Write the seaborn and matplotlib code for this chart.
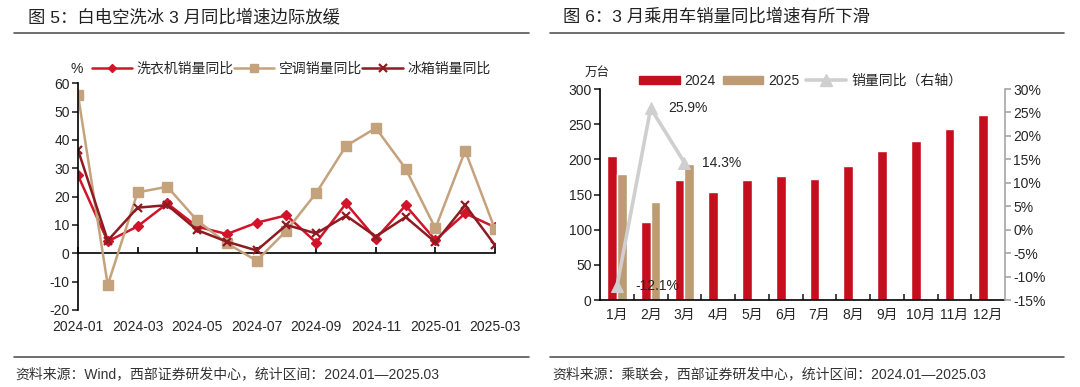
import numpy as np
import pandas as pd
import matplotlib
matplotlib.use('Agg')
import matplotlib.pyplot as plt
from matplotlib.lines import Line2D
from matplotlib.patches import Patch
from matplotlib.ticker import FuncFormatter
import seaborn as sns

sns.set_style('white')
plt.rcParams['font.family'] = ['Liberation Sans', 'Noto Sans CJK SC']
plt.rcParams['axes.unicode_minus'] = False

# %% data -- left chart (white goods yoy, %)
months_l = ['2024-01', '2024-02', '2024-03', '2024-04', '2024-05', '2024-06', '2024-07',
            '2024-08', '2024-09', '2024-10', '2024-11', '2024-12', '2025-01', '2025-02', '2025-03']
washer = [27.5, 4.2, 9.5, 17.6, 9.4, 6.8, 10.8, 13.4, 3.8, 17.6, 5.2, 16.9, 4.7, 14.1, 9.2]
aircon = [55.9, -11.2, 21.5, 23.5, 11.6, 3.5, -2.6, 8.0, 21.3, 37.9, 44.2, 29.9, 8.8, 36.2, 8.5]
fridge = [36.5, 4.5, 16.1, 17.0, 8.2, 4.1, 1.0, 10.0, 7.0, 13.3, 5.9, 12.8, 3.9, 17.0, 2.9]
series_names = ['洗衣机销量同比', '空调销量同比', '冰箱销量同比']

# %% data -- right chart (passenger car sales, 万台)
months_r = ['1月', '2月', '3月', '4月', '5月', '6月', '7月', '8月', '9月', '10月', '11月', '12月']
sales_2024 = [204.5, 110.5, 170, 153.5, 171, 177, 172, 191, 211.5, 226.5, 242.5, 263.5]
sales_2025 = [179, 139, 193.5]
yoy = [-12.1, 25.9, 14.3]
yoy_labels = ['-12.1%', '25.9%', '14.3%']

c_washer = '#D2142A'
c_aircon = '#C4A27C'
c_fridge = '#8E1B22'
c_red = '#C50F1F'
c_tan = '#BD9B73'
c_gray = '#CFCFCF'

fig = plt.figure(figsize=(10.8, 3.87), dpi=100)

# region >>> left chart
ax1 = fig.add_axes([0.0722, 0.1990, 0.3861, 0.5858])
pos = np.arange(len(months_l))
styles = [(washer, c_washer, 'D', 5, 1.0), (aircon, c_aircon, 's', 7, 1.0), (fridge, c_fridge, 'x', 6, 1.6)]
for name, (vals, col, mk, ms, mew) in zip(series_names, styles):
    sns.lineplot(x=pos, y=vals, ax=ax1, color=col, marker=mk, markersize=ms,
                 markeredgecolor=col, markeredgewidth=mew, lw=1.8, label=name, legend=False)
ax1.set_xlim(0, 14)
ax1.set_ylim(-20, 60)
ax1.set_yticks(range(-20, 61, 10))
ax1.set_xticks(pos[::2])
ax1.set_xticklabels(months_l[::2])
for s in ['top', 'right', 'bottom']:
    ax1.spines[s].set_visible(False)
ax1.spines['left'].set_color('black')
ax1.spines['left'].set_linewidth(1.2)
ax1.tick_params(axis='y', direction='out', length=4, width=1.2, labelsize=10, pad=2, left=True)
ax1.tick_params(axis='x', length=0, labelsize=10, pad=7)
ax1.set_xlabel('')
ax1.set_ylabel('')

# zero line with ticks pointing up
zero = ax1.secondary_xaxis(0.25)
zero.set_xticks(pos[::2])
zero.set_xticklabels([])
zero.tick_params(axis='x', direction='in', length=4, width=1.2, color='black')
zero.spines['bottom'].set_linewidth(1.2)
zero.spines['bottom'].set_color('black')

fig.text(0.0712, 0.822, '%', fontsize=10, ha='center', va='center')
h1 = [Line2D([], [], color=c, marker=m, markersize=ms * 0.9, markeredgecolor=c, markeredgewidth=mew, lw=1.8)
      for (_, c, m, ms, mew) in styles]
fig.legend(h1, series_names, loc='center left', bbox_to_anchor=(0.085, 0.822), ncol=3,
           frameon=False, fontsize=10, handlelength=2.9, handletextpad=0.35, columnspacing=0.0,
           borderpad=0, borderaxespad=0)
# endregion

# region >>> right chart
ax2 = fig.add_axes([0.5556, 0.2248, 0.375, 0.5452])
df_r = pd.concat([
    pd.DataFrame({'month': months_r, 'year': '2024', 'sales': sales_2024}),
    pd.DataFrame({'month': months_r[:3], 'year': '2025', 'sales': sales_2025}),
])
sns.barplot(data=df_r, x='month', y='sales', hue='year', order=months_r, hue_order=['2024', '2025'],
            palette={'2024': c_red, '2025': c_tan}, width=0.575, gap=0, saturation=1,
            legend=False, ax=ax2)
ax2.set_ylim(0, 300)
ax2.set_yticks(range(0, 301, 50))
ax2.set_xlabel('')
ax2.set_ylabel('')
for s in ['top', 'right']:
    ax2.spines[s].set_visible(False)
for s in ['left', 'bottom']:
    ax2.spines[s].set_color('black')
    ax2.spines[s].set_linewidth(1.2)
ax2.tick_params(axis='y', direction='out', length=4, width=1.2, labelsize=10, pad=2, left=True)
ax2.tick_params(axis='x', which='major', length=0, labelsize=10, pad=6)
ax2.set_xticks(np.arange(0.5, 11, 1), minor=True)
ax2.tick_params(axis='x', which='minor', direction='in', length=4, width=1.2, bottom=True)

ax3 = ax2.twinx()
sns.lineplot(x=[0, 1, 2], y=yoy, ax=ax3, color=c_gray, marker='^', markersize=9,
             markeredgecolor=c_gray, lw=2.6, legend=False)
ax3.set_ylim(-15, 30)
ax3.set_yticks(range(-15, 31, 5))
ax3.yaxis.set_major_formatter(FuncFormatter(lambda v, p: f'{v:.0f}%'))
for s in ['top', 'left', 'bottom']:
    ax3.spines[s].set_visible(False)
ax3.spines['right'].set_color('#A6A6A6')
ax3.spines['right'].set_linewidth(1.2)
ax3.tick_params(axis='y', direction='out', length=4, width=1.2, color='#A6A6A6', labelsize=10, pad=2, right=True)
ax3.set_ylabel('')
for x, y, t in zip([0, 1, 2], yoy, yoy_labels):
    ax3.annotate(t, (x, y), xytext=(13, 0), textcoords='offset points', fontsize=10, va='center', ha='left')
ax2.set_xlim(-0.5, 11.5)

fig.text(0.5528, 0.811, '万台', fontsize=9, ha='center', va='center')
h2 = [Patch(color=c_red), Patch(color=c_tan),
      Line2D([], [], color=c_gray, marker='^', markersize=8, markeredgecolor=c_gray, lw=2.6)]
fig.legend(h2, ['2024', '2025', '销量同比（右轴）'], loc='center left', bbox_to_anchor=(0.592, 0.791),
           ncol=3, frameon=False, fontsize=10, handlelength=2.9, handleheight=0.6,
           handletextpad=0.35, columnspacing=0.5, borderpad=0, borderaxespad=0)
# endregion

# region >>> titles, rules, sources
fig.text(0.0256, 0.957, '图 5：白电空洗冰 3 月同比增速边际放缓', fontsize=12.5, va='center', color='#222222')
fig.text(0.5210, 0.957, '图 6：3 月乘用车销量同比增速有所下滑', fontsize=12.5, va='center', color='#222222')
for x0, x1 in [(0.013, 0.49), (0.509, 0.985)]:
    for y in [0.9147, 0.0775]:
        fig.add_artist(Line2D([x0, x1], [y, y], color='#555555', lw=1.2))
fig.text(0.0145, 0.0336, '资料来源：Wind，西部证券研发中心，统计区间：2024.01—2025.03',
         fontsize=10, va='center', color='#333333')
fig.text(0.511, 0.0336, '资料来源：乘联会，西部证券研发中心，统计区间：2024.01—2025.03',
         fontsize=10, va='center', color='#333333')
# endregion

fig.savefig('out.png', dpi=100)
